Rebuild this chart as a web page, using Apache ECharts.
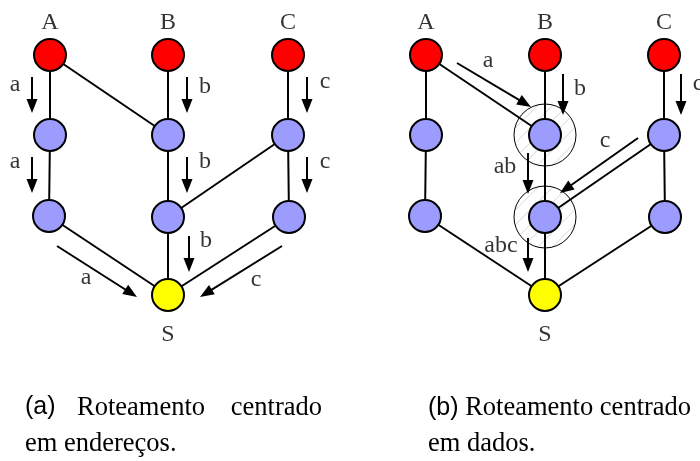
<!DOCTYPE html>
<html>
<head>
<meta charset="utf-8">
<script src="https://cdn.jsdelivr.net/npm/echarts@6/dist/echarts.min.js"></script>
<style>html,body{margin:0;padding:0;background:#fff}#c{width:700px;height:461px}</style>
</head>
<body>
<div id="c"></div>
<script>
// ---- data ----
const nodeIds   = ['A','B','C','A1','B1','C1','A2','B2','C2','S'];
const nodeKinds = ['source','source','source','relay','relay','relay','relay','relay','relay','sink'];
const nodeXa = [50,168,288, 50,168,288, 49,168,289, 168];
const nodeXb = [426,545,664, 426,545,664, 425,545,665, 545];
const nodeY  = [55,55,55, 135,135,135, 216,217,217, 295];
const edgeList = [['A','A1'],['A1','A2'],['A2','S'],['A','B1'],['B','B1'],['B1','B2'],['B2','S'],
                  ['C','C1'],['C1','C2'],['C2','S'],['C1','B2']];
const haloNodesB = ['B1','B2'];
const nameLabels = ['A','B','C','S'];
const nameLabelNodes = ['A','B','C','S'];
// arrows: [x1,y1,x2,y2]
const arrowsA = [[32,77,32,113],[32,157,32,193],[187,77,187,113],[187,157,187,193],[189,236,189,272],
                 [307,77,307,113],[307,157,307,193],[57,246,137,297],[282,246,200,297]];
const arrowTextA = ['a','a','b','b','b','c','c','a','c'];
const arrowTextPosA = [[15,85],[15,162],[205,87],[205,162],[206,241],[325,82],[325,162],[86,278],[256,280]];
const arrowsB = [[457,63,531,107],[563,74,563,115],[681,74,681,115],[638,138,560,193],[528,153,528,194],[528,238,528,272]];
const arrowTextB = ['a','b','c','c','ab','abc'];
const arrowTextPosB = [[488,61],[580,89],[698,84],[605,141],[505,167],[501,246]];

// ---- build ----
const kindColor = {source:'#ff0000', relay:'#9c9cff', sink:'#ffff00'};
const idx = id => nodeIds.indexOf(id);
function nodeData(xs){
  return nodeIds.map((id,i)=>({value:[xs[i],nodeY[i]], itemStyle:{color:kindColor[nodeKinds[i]]}}));
}
function edgeData(xs){
  return edgeList.map(([s,t])=>({coords:[[xs[idx(s)],nodeY[idx(s)]],[xs[idx(t)],nodeY[idx(t)]]]}));
}
const textData = [];
nameLabels.forEach((t,i)=>{
  const k = idx(nameLabelNodes[i]);
  const dy = nameLabelNodes[i]==='S' ? 40 : -32;
  textData.push({name:t, value:[nodeXa[k], nodeY[k]+dy]});
  textData.push({name:t, value:[nodeXb[k], nodeY[k]+dy]});
});
arrowTextA.forEach((t,i)=>textData.push({name:t,value:arrowTextPosA[i]}));
arrowTextB.forEach((t,i)=>textData.push({name:t,value:arrowTextPosB[i]}));

const HALO_R = 31, HEAD_L = 14, HEAD_W = 5.5;
function renderHalo(params, api){
  const c = api.coord([api.value(0), api.value(1)]);
  const r = HALO_R, s = Math.SQRT1_2, children = [];
  for (let k = -r + 5; k < r; k += 10.5){
    const h = Math.sqrt(r*r - k*k);
    const cx = c[0] + k*s, cy = c[1] + k*s;
    children.push({type:'line', shape:{x1:cx - h*s, y1:cy + h*s, x2:cx + h*s, y2:cy - h*s},
      style:{stroke:'#c4c4c4', lineWidth:0.7}});
  }
  children.push({type:'circle', shape:{cx:c[0], cy:c[1], r:r}, style:{fill:null, stroke:'#000', lineWidth:1}});
  return {type:'group', children};
}
function renderArrow(params, api){
  const p1 = api.coord([api.value(0), api.value(1)]);
  const p2 = api.coord([api.value(2), api.value(3)]);
  const dx = p2[0]-p1[0], dy = p2[1]-p1[1], L = Math.hypot(dx,dy);
  const ux = dx/L, uy = dy/L, nx = -uy, ny = ux;
  const bx = p2[0]-ux*HEAD_L, by = p2[1]-uy*HEAD_L;
  return {type:'group', children:[
    {type:'line', shape:{x1:p1[0],y1:p1[1],x2:bx+ux*1,y2:by+uy*1}, style:{stroke:'#000', lineWidth:2}},
    {type:'polygon', shape:{points:[[p2[0],p2[1]],[bx+nx*HEAD_W,by+ny*HEAD_W],[bx-nx*HEAD_W,by-ny*HEAD_W]]}, style:{fill:'#000'}}
  ]};
}

const chart = echarts.init(document.getElementById('c'), null, {renderer:'canvas'});
const serif = '"Liberation Serif","Times New Roman",serif';
const sans = '"Liberation Sans",Arial,sans-serif';
chart.setOption({
  animation:false,
  backgroundColor:'#fff',
  grid:{left:0,right:0,top:0,bottom:0},
  xAxis:{type:'value',min:0,max:700,show:false},
  yAxis:{type:'value',min:0,max:461,inverse:true,show:false},
  series:[
    {type:'custom', z:1, silent:true, renderItem:renderHalo,
     data: haloNodesB.map(id=>[nodeXb[idx(id)], nodeY[idx(id)]])},
    {type:'lines', coordinateSystem:'cartesian2d', z:2, silent:true,
     lineStyle:{color:'#000', width:2, opacity:1},
     data: edgeData(nodeXa).concat(edgeData(nodeXb))},
    {type:'scatter', z:3, silent:true, symbol:'circle', symbolSize:32,
     itemStyle:{borderColor:'#000', borderWidth:2, opacity:1},
     data: nodeData(nodeXa).concat(nodeData(nodeXb))},
    {type:'custom', z:4, silent:true, renderItem:renderArrow, data: arrowsA.concat(arrowsB)},
    {type:'scatter', z:5, silent:true, symbolSize:1, itemStyle:{color:'rgba(0,0,0,0)'},
     label:{show:true, position:'inside', formatter:p=>p.name, fontFamily:serif, fontSize:24, color:'#000'},
     data: textData}
  ],
  graphic:[
    {type:'text', left:25, top:395, style:{text:'(a)', font:'25px '+sans, fill:'#000'}},
    {type:'text', left:77, top:395, style:{text:'Roteamento', font:'26.5px '+serif, fill:'#000'}},
    {type:'text', right:378, top:395, style:{text:'centrado', font:'26.5px '+serif, fill:'#000'}},
    {type:'text', left:25, top:431, style:{text:'em endereços.', font:'26.5px '+serif, fill:'#000'}},
    {type:'text', left:428, top:395, style:{text:'{s|(b)} Roteamento centrado', font:'26.5px '+serif, fill:'#000',
      rich:{s:{fontFamily:sans, fontSize:25}}}},
    {type:'text', left:428, top:431, style:{text:'em dados.', font:'26.5px '+serif, fill:'#000'}}
  ]
});
</script>
</body>
</html>
